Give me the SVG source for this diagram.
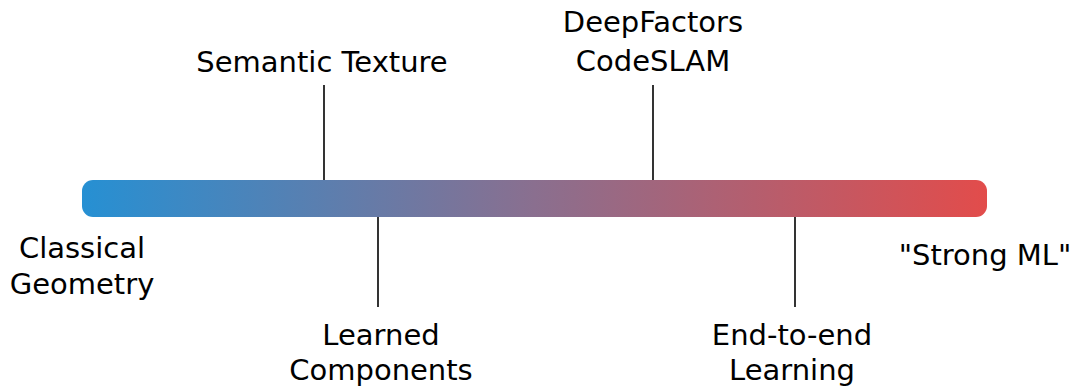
<svg xmlns="http://www.w3.org/2000/svg" width="1075" height="387" viewBox="0 0 1075 387">
  <style>
    text { font-family: "DejaVu Sans", "Liberation Sans", sans-serif; font-size: 29px; fill: #000; text-anchor: middle; }
    .tick { stroke: #000; stroke-width: 1.6; fill: none; }
  </style>
  <defs>
    <linearGradient id="spectrum" x1="82" y1="0" x2="987" y2="0" gradientUnits="userSpaceOnUse">
      <stop offset="0" stop-color="#2690d3"/>
      <stop offset="0.5" stop-color="#8a6f8f"/>
      <stop offset="1" stop-color="#e24c4b"/>
    </linearGradient>
  </defs>
  <rect width="1075" height="387" fill="#fff"/>
  <!-- spectrum bar -->
  <g id="bar">
    <rect x="82" y="180" width="905" height="37" rx="11" fill="url(#spectrum)"/>
  </g>
  <!-- tick connectors -->
  <g id="connectors">
    <line class="tick" x1="324" y1="85" x2="324" y2="180"/>
    <line class="tick" x1="653" y1="85" x2="653" y2="180"/>
    <line class="tick" x1="378" y1="217" x2="378" y2="307"/>
    <line class="tick" x1="795" y1="217" x2="795" y2="307"/>
  </g>
  <g id="classical">
    <text x="82" y="258">Classical</text>
    <text x="82" y="294">Geometry</text>
  </g>
  <g id="strong-ml">
    <text x="985" y="265">"Strong ML"</text>
  </g>
  <g id="semantic-texture">
    <text x="322" y="72">Semantic Texture</text>
  </g>
  <g id="deepfactors">
    <text x="653" y="32">DeepFactors</text>
    <text x="653" y="71">CodeSLAM</text>
  </g>
  <g id="learned-components">
    <text x="381" y="345">Learned</text>
    <text x="381" y="380">Components</text>
  </g>
  <g id="end-to-end">
    <text x="792" y="345">End-to-end</text>
    <text x="792" y="380">Learning</text>
  </g>
</svg>
